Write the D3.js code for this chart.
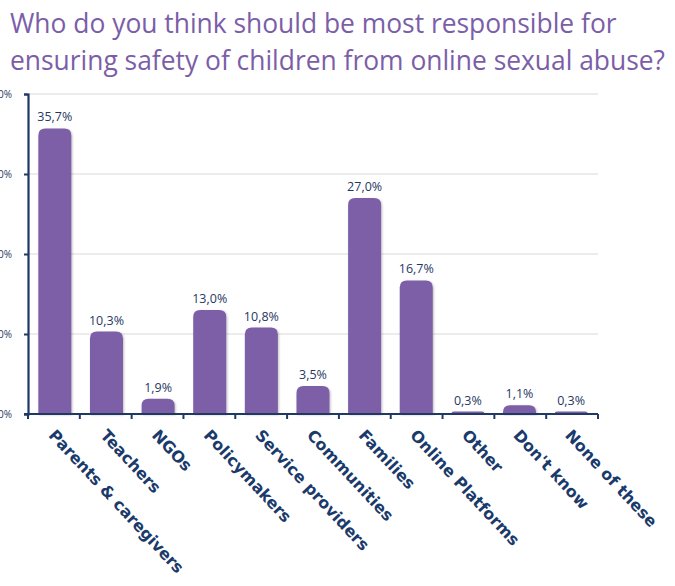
<!DOCTYPE html>
<html>
<head>
<meta charset="utf-8">
<script src="https://cdn.jsdelivr.net/npm/d3@7"></script>
<style>
  body { margin: 0; background: #fff; }
  .title { font-family: "Open Sans", sans-serif; fill: #7b5ea7; }
  .valueText { font-family: "Open Sans", sans-serif; font-size: 12.5px; fill: #1f3864; }
  .catText { font-family: "DejaVu Sans", sans-serif; font-weight: bold; font-size: 16px; fill: #1a3a6b; }
  .tickText { font-family: "Open Sans", sans-serif; font-size: 10px; fill: #1f3864; }
</style>
</head>
<body>
<div id="chart"></div>
<script>
// data
var categories = ["Parents & caregivers", "Teachers", "NGOs", "Policymakers", "Service providers",
    "Communities", "Families", "Online Platforms", "Other", "Don't know", "None of these"];
var values = [35.7, 10.3, 1.9, 13.0, 10.8, 3.5, 27.0, 16.7, 0.3, 1.1, 0.3];
var yTicks = [0, 10, 20, 30, 40];
var titleLines = ["Who do you think should be most responsible for",
    "ensuring safety of children from online sexual abuse?"];

var svgWidth = 675;
var svgHeight = 586;
var margin = { top: 94, right: 77, bottom: 172, left: 28 };
var chart_width = svgWidth - margin.left - margin.right;
var chart_height = svgHeight - margin.top - margin.bottom;

var svg = d3.select("#chart")
    .append("svg")
    .attr("width", svgWidth)
    .attr("height", svgHeight);

// shadow for bars
var defs = svg.append("defs");
var filter = defs.append("filter").attr("id", "shadow")
    .attr("x", "-20%").attr("y", "-20%").attr("width", "140%").attr("height", "140%");
filter.append("feDropShadow")
    .attr("dx", 1).attr("dy", 1).attr("stdDeviation", 1.2)
    .attr("flood-color", "#000").attr("flood-opacity", 0.25);

// title
svg.append("g").selectAll("text")
    .data(titleLines)
    .enter()
    .append("text")
    .attr("class", "title")
    .attr("x", 10)
    .attr("y", (d, i) => 33 + i * 37)
    .attr("font-size", 26.4)
    .text(d => d);

var chartGroup = svg.append("g")
    .attr("transform", `translate(${margin.left}, ${margin.top})`);

var xScale = d3.scaleBand()
    .domain(categories)
    .range([0, chart_width])
    .paddingInner(0.36)
    .paddingOuter(0.2);

var yScale = d3.scaleLinear()
    .domain([0, 40])
    .range([chart_height, 0]);

// gridlines
chartGroup.append("g")
    .selectAll("line")
    .data(yTicks.filter(d => d > 0))
    .enter()
    .append("line")
    .attr("x1", 0)
    .attr("x2", chart_width)
    .attr("y1", d => yScale(d))
    .attr("y2", d => yScale(d))
    .attr("stroke", "#d9d9d9")
    .attr("stroke-width", 1);

// bars with rounded tops
function barPath(d, i) {
    var x = xScale(categories[i]);
    var w = xScale.bandwidth();
    var y0 = yScale(0);
    var y1 = yScale(d);
    var h = y0 - y1;
    var r = Math.min(7, h, w / 2);
    return `M${x},${y0} L${x},${y1 + r} Q${x},${y1} ${x + r},${y1} L${x + w - r},${y1} Q${x + w},${y1} ${x + w},${y1 + r} L${x + w},${y0} Z`;
}

chartGroup.append("g")
    .selectAll("path")
    .data(values)
    .enter()
    .append("path")
    .attr("d", barPath)
    .attr("fill", "#7d5fa8")
    .attr("filter", "url(#shadow)");

// value labels
chartGroup.append("g")
    .selectAll("text")
    .data(values)
    .enter()
    .append("text")
    .attr("class", "valueText")
    .attr("text-anchor", "middle")
    .attr("x", (d, i) => xScale(categories[i]) + xScale.bandwidth() / 2)
    .attr("y", d => yScale(d) - 7)
    .text(d => d.toFixed(1).replace(".", ",") + "%");

// y axis
var leftAxis = d3.axisLeft(yScale)
    .tickValues(yTicks)
    .tickSize(4)
    .tickFormat(d => d + "%");

var yAxis = chartGroup.append("g").call(leftAxis);
yAxis.select(".domain").attr("stroke", "#1f3864").attr("stroke-width", 2.2);
yAxis.selectAll(".tick line").attr("stroke", "#1f3864").attr("stroke-width", 2);
yAxis.selectAll(".tick text")
    .attr("class", "tickText")
    .attr("x", -16)
    .attr("dy", "0.32em");

// x axis line and boundary ticks
var xAxisGroup = chartGroup.append("g")
    .attr("transform", `translate(0, ${chart_height})`);

xAxisGroup.append("line")
    .attr("x1", -4)
    .attr("x2", chart_width)
    .attr("stroke", "#1f3864")
    .attr("stroke-width", 2.2);

var boundaries = d3.range(categories.length + 1).map(i => i * chart_width / categories.length);
xAxisGroup.selectAll(".bt")
    .data(boundaries)
    .enter()
    .append("line")
    .attr("x1", d => d)
    .attr("x2", d => d)
    .attr("y1", 0)
    .attr("y2", 5)
    .attr("stroke", "#1f3864")
    .attr("stroke-width", 2);

// category labels
xAxisGroup.selectAll(".catText")
    .data(categories)
    .enter()
    .append("text")
    .attr("class", "catText")
    .attr("text-anchor", "start")
    .attr("transform", d => `translate(${xScale(d) + xScale.bandwidth() / 2 - 7}, 22) rotate(47)`)
    .text(d => d);
</script>
</body>
</html>
